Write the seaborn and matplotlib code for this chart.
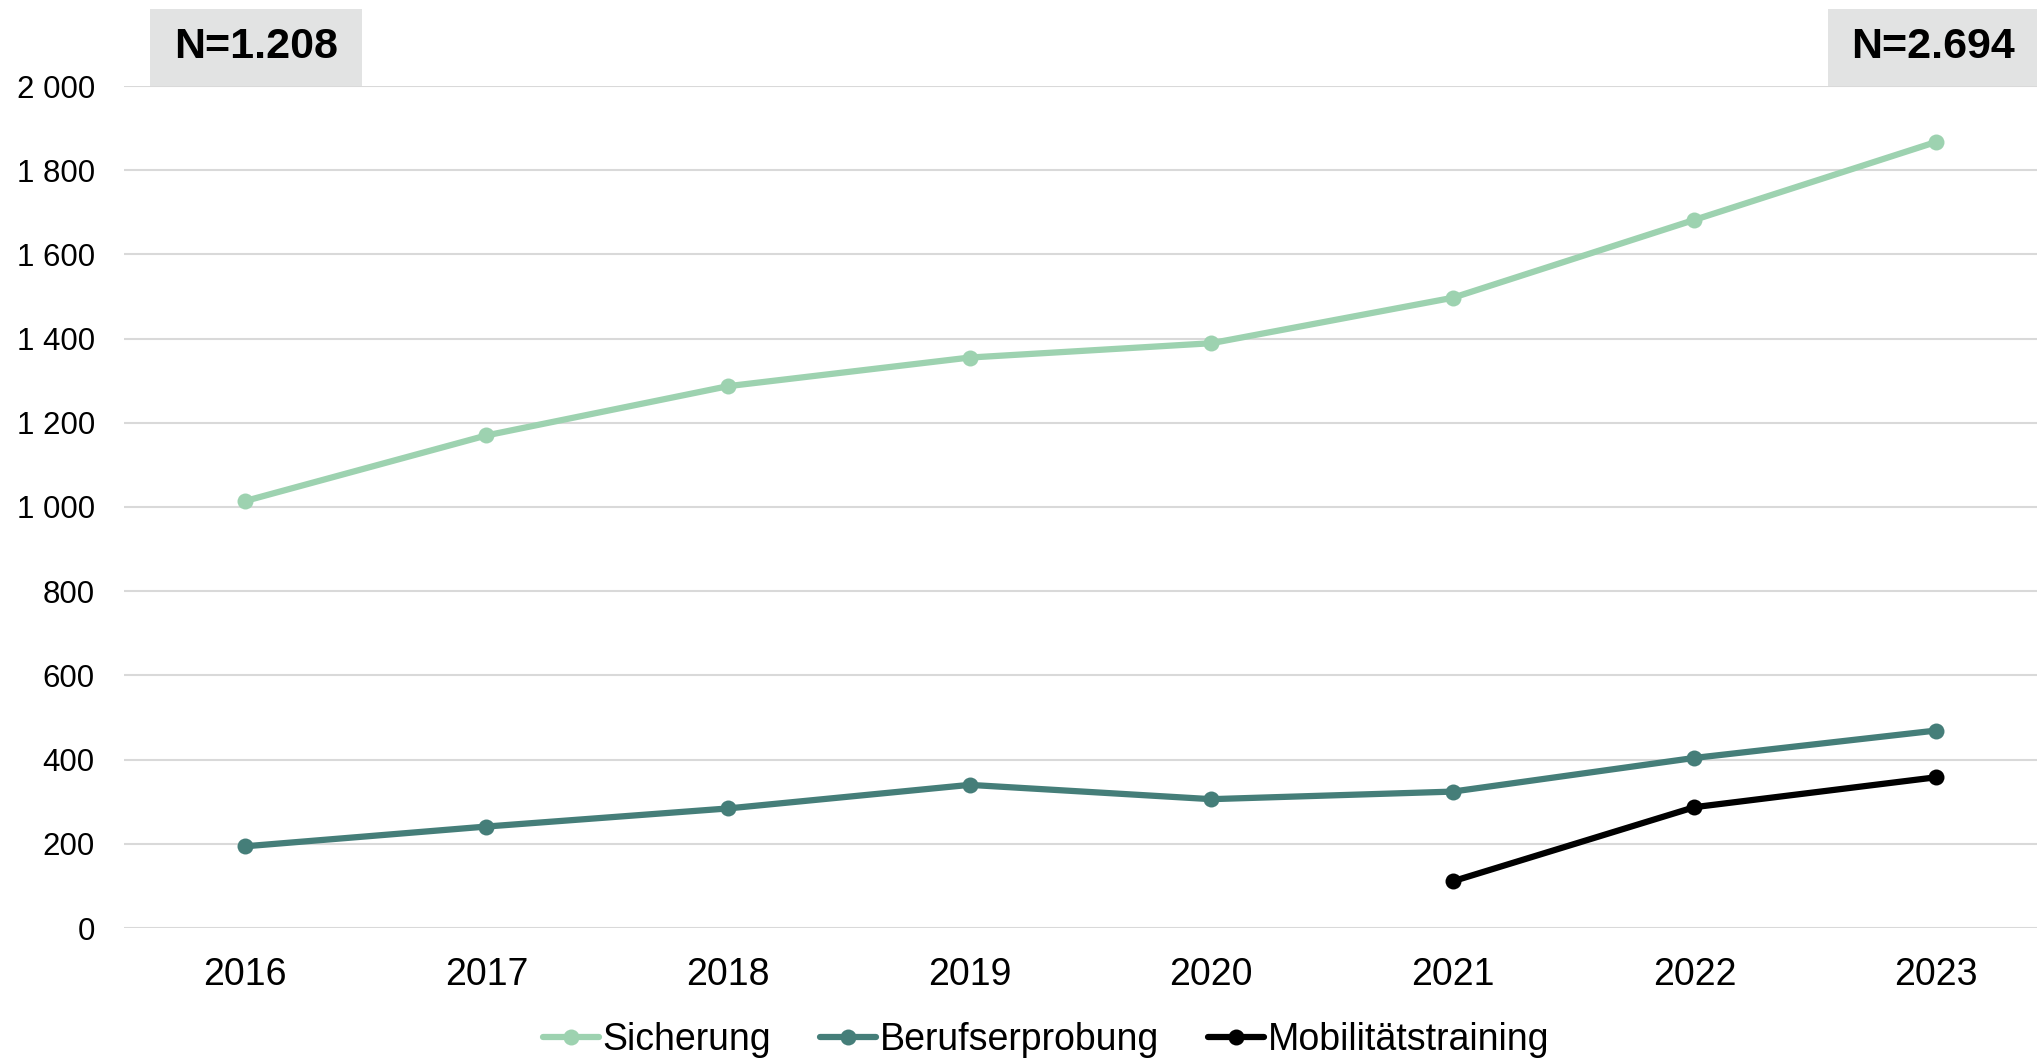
import pandas as pd
import matplotlib.pyplot as plt
import seaborn as sns
from matplotlib.lines import Line2D
from matplotlib.patches import Rectangle

# data
jahre = ['2016', '2017', '2018', '2019', '2020', '2021', '2022', '2023']
sicherung = [1014, 1170, 1287, 1355, 1389, 1497, 1682, 1867]
berufserprobung = [194, 241, 284, 340, 306, 324, 404, 469]
mobilitaet = [None, None, None, None, None, 111, 287, 358]

serien = ['Sicherung', 'Berufserprobung', 'Mobilitätstraining']
farben = ['#9DD2B0', '#457E79', '#000000']

y_ticks = [0, 200, 400, 600, 800, 1000, 1200, 1400, 1600, 1800, 2000]
y_labels = ['0', '200', '400', '600', '800', '1 000', '1 200', '1 400', '1 600', '1 800', '2 000']

n_links = 'N=1.208'
n_rechts = 'N=2.694'

df = pd.DataFrame({
    'Jahr': jahre * 3,
    'Art': [s for s in serien for _ in jahre],
    'Anzahl': sicherung + berufserprobung + mobilitaet,
}).dropna()

sns.set_style('white')
plt.rcParams['font.family'] = ['Liberation Sans', 'DejaVu Sans']
plt.rcParams['text.color'] = 'black'

W, H = 2037, 1059
fig = plt.figure(figsize=(W / 100, H / 100), dpi=100)
ax = fig.add_axes([124 / W, 1 - 928 / H, (W - 124) / W, (928 - 86) / H])

sns.lineplot(data=df, x='Jahr', y='Anzahl', hue='Art', hue_order=serien,
             palette=farben, marker='o', markersize=11.5, markeredgewidth=0,
             linewidth=4.5, sort=False, legend=False, ax=ax, zorder=3)

ax.set_xlim(-0.5, -0.5 + (W - 124) / 241.6)
ax.set_ylim(0, 2000)
ax.set_yticks(y_ticks)
ax.set_yticklabels(y_labels)
ax.grid(axis='y', color='#D9D9D9', linewidth=1.5)
ax.grid(axis='x', visible=False)
ax.set_axisbelow(True)
for s in ax.spines.values():
    s.set_visible(False)
ax.tick_params(axis='y', length=0, pad=21, labelsize=22.5, labelcolor='black')
ax.tick_params(axis='x', length=0, pad=21, labelsize=27, labelcolor='black')
ax.set_xlabel('')
ax.set_ylabel('')

# N boxes at top
for (x0, x1), txt in [((150, 362), n_links), ((1828, 2037), n_rechts)]:
    fig.patches.append(Rectangle((x0 / W, 1 - 86 / H), (x1 - x0) / W, 77 / H,
                                 transform=fig.transFigure, facecolor='#E2E3E3',
                                 edgecolor='none', zorder=5))
    fig.text((x0 + x1) / 2 / W, 1 - 47.5 / H, txt, ha='center', va='center',
             fontsize=31, fontweight='bold', color='black', zorder=6)

handles = [Line2D([], [], color=c, linewidth=4.5, marker='o', markersize=11.5,
                  markeredgewidth=0) for c in farben]
leg = fig.legend(handles, serien, loc='center', bbox_to_anchor=(1046 / W, 1 - 1040 / H),
                 ncol=3, frameon=False, fontsize=27, handlelength=1.5,
                 handletextpad=0.1, columnspacing=1.3, borderaxespad=0)
for t in leg.get_texts():
    t.set_color('black')

fig.savefig('out.png', dpi=100)
